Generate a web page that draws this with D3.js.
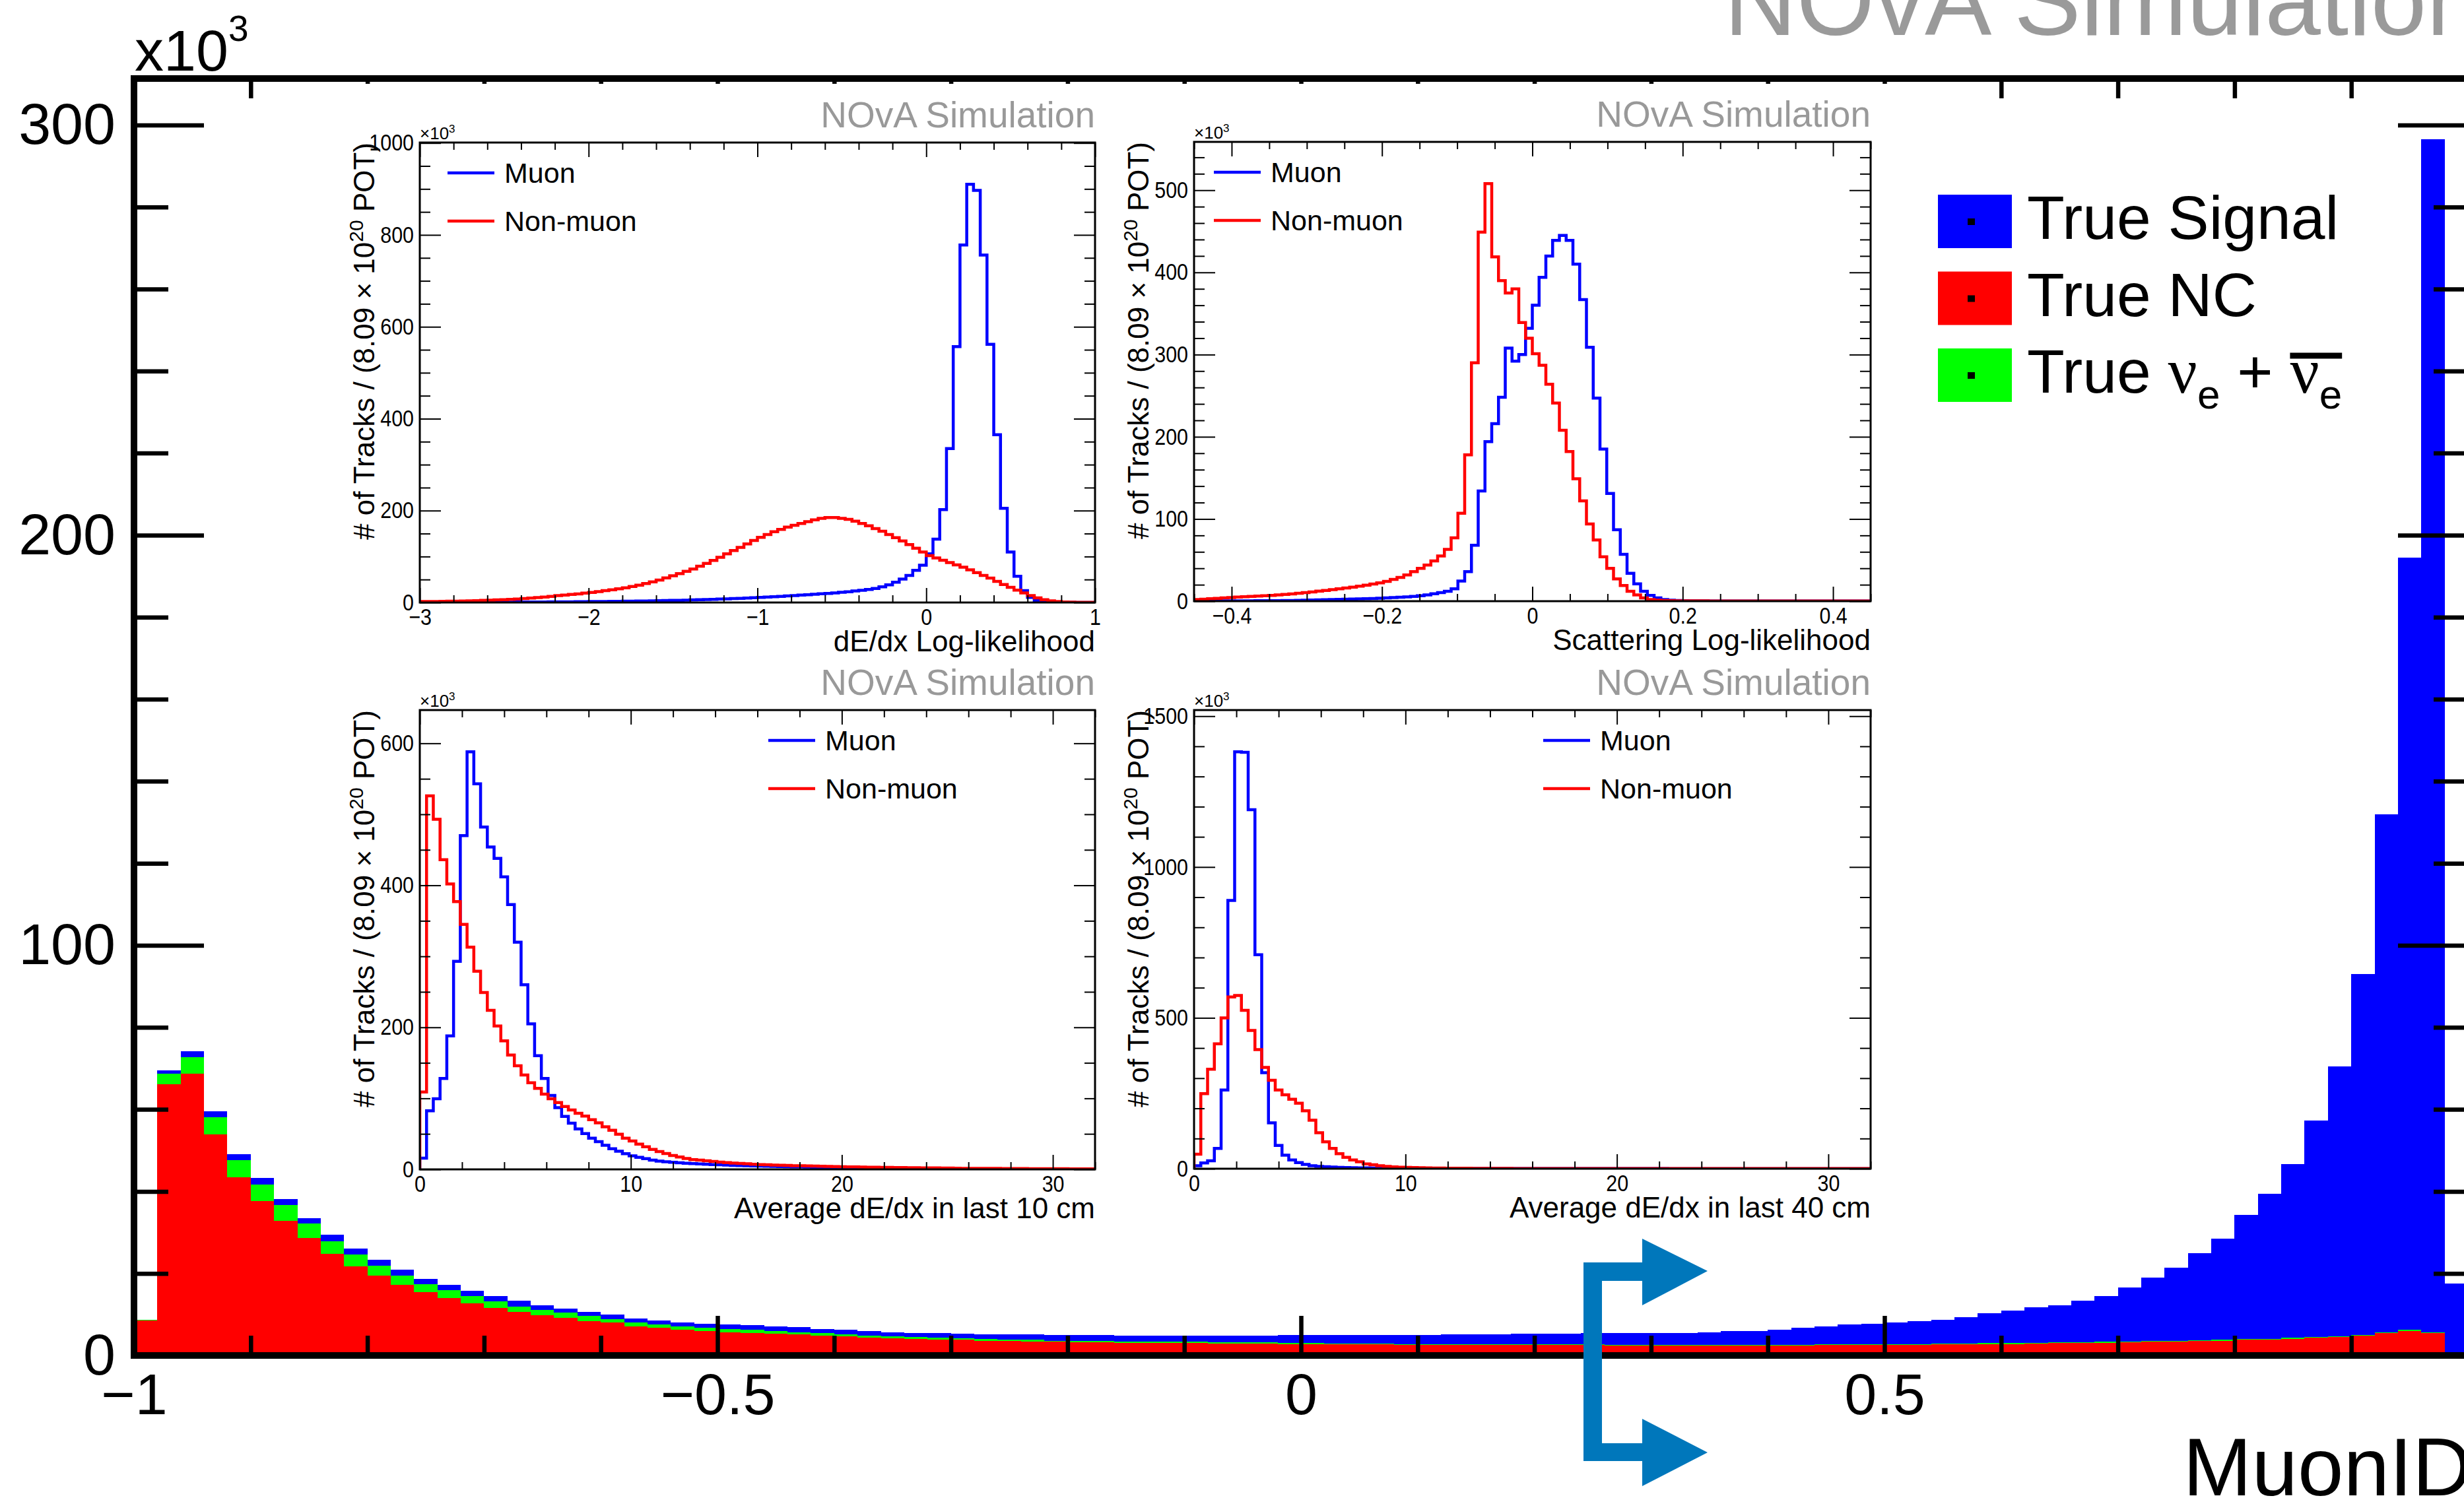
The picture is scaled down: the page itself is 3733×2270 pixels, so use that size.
<!DOCTYPE html>
<html>
<head>
<meta charset="utf-8">
<title>MuonID</title>
<script src="https://cdn.jsdelivr.net/npm/d3@7"></script>
<style>
  body { margin: 0; background: #fff; }
  svg { display: block; }
  text { white-space: pre; }
</style>
</head>
<body>
<svg id="fig" width="3733" height="2270"></svg>
<script>
// ---------------- data ----------------
// MuonID, 100 bins of 0.02 between -1 and 1, events in units of 10^3
var muonIdRange = [-1, 1];
var ncCounts = [
  8.6, 66.2, 68.7, 53.9, 43.5, 37.6, 32.9, 28.6, 24.7, 21.8,
  19.5, 17.2, 15.5, 14.0, 12.7, 11.6, 10.6, 9.8, 9.1, 8.4,
  8.0, 7.1, 6.7, 6.3, 6.0, 5.7, 5.5, 5.3, 5.1, 4.8,
  4.6, 4.4, 4.2, 4.0, 3.9, 3.8, 3.6, 3.5, 3.4, 3.3,
  3.2, 3.2, 3.1, 3.1, 3.0, 3.0, 2.9, 2.9, 2.9, 2.8,
  2.8, 2.7, 2.7, 2.7, 2.6, 2.6, 2.6, 2.6, 2.6, 2.5,
  2.5, 2.5, 2.5, 2.4, 2.4, 2.4, 2.4, 2.4, 2.4, 2.4,
  2.4, 2.4, 2.5, 2.5, 2.5, 2.6, 2.6, 2.7, 2.7, 2.8,
  2.8, 2.9, 3.0, 3.0, 3.1, 3.2, 3.3, 3.4, 3.5, 3.6,
  3.8, 3.9, 4.1, 4.3, 4.5, 4.8, 5.4, 5.9, 5.5, 0.4];
var nueCounts = [
  0.1, 2.5, 4.0, 4.2, 4.1, 4.1, 3.8, 3.5, 3.2, 2.8,
  2.4, 2.3, 1.9, 1.9, 1.8, 1.6, 1.3, 1.3, 1.3, 1.2,
  0.9, 1.0, 0.8, 0.8, 0.7, 0.7, 0.7, 0.7, 0.6, 0.6,
  0.6, 0.5, 0.5, 0.5, 0.4, 0.4, 0.4, 0.4, 0.4, 0.3,
  0.3, 0.3, 0.3, 0.3, 0.3, 0.3, 0.3, 0.3, 0.3, 0.3,
  0.2, 0.2, 0.2, 0.2, 0.2, 0.2, 0.2, 0.2, 0.2, 0.2,
  0.2, 0.2, 0.2, 0.2, 0.2, 0.2, 0.2, 0.2, 0.2, 0.2,
  0.2, 0.2, 0.2, 0.2, 0.2, 0.2, 0.2, 0.2, 0.2, 0.2,
  0.2, 0.2, 0.2, 0.2, 0.2, 0.2, 0.2, 0.2, 0.2, 0.2,
  0.2, 0.2, 0.2, 0.2, 0.2, 0.2, 0.2, 0.3, 0.2, 0.1];
var signalCounts = [
  0.0, 0.8, 1.5, 1.4, 1.5, 1.5, 1.5, 1.4, 1.5, 1.5,
  1.4, 1.4, 1.3, 1.3, 1.3, 1.2, 1.4, 1.2, 1.1, 1.0,
  1.1, 0.9, 1.0, 1.0, 1.1, 1.1, 1.2, 1.1, 1.2, 1.1,
  1.0, 1.1, 1.0, 1.0, 1.1, 1.1, 1.2, 1.2, 1.3, 1.4,
  1.5, 1.5, 1.5, 1.5, 1.6, 1.6, 1.7, 1.7, 1.7, 1.9,
  2.0, 2.1, 2.1, 2.1, 2.2, 2.2, 2.3, 2.3, 2.4, 2.6,
  2.6, 2.6, 2.7, 2.8, 2.9, 2.9, 2.9, 3.0, 3.3, 3.4,
  3.7, 4.1, 4.4, 4.8, 5.0, 5.3, 5.5, 5.8, 6.4, 7.3,
  7.9, 8.6, 9.1, 10.1, 11.2, 13.1, 15.5, 17.8, 21.2, 24.7,
  30.2, 35.3, 42.3, 52.7, 65.8, 88.0, 126.4, 188.3, 290.8, 17.1];
var muonIdCut = 0.25;

var mainXTicks = [-1, -0.5, 0, 0.5];
var mainYTicks = [0, 100, 200, 300];
var seriesKeys = ['nc', 'nue', 'sig'];
var legendLabels = [
  [['True Signal']],
  [['True NC']],
  [['True '], ['\u03bd', 'greek'], ['e', 'sub'], [' + '], ['\u03bd', 'greek bar'], ['e', 'sub bar']]
];

// inset: dE/dx log-likelihood, 100 bins on [-3, 1]
var dedxLLRange = [-3, 1];
var dedxLLTicks = [-3, -2, -1, 0, 1];
var dedxLLMuon = [
  0.3, 0.3, 0.4, 0.4, 0.4, 0.5, 0.5, 0.5, 0.6, 0.6,
  0.7, 0.7, 0.8, 0.8, 0.9, 1.0, 1.0, 1.1, 1.2, 1.3,
  1.4, 1.5, 1.6, 1.7, 1.8, 2.0, 2.1, 2.3, 2.4, 2.6,
  2.8, 3.0, 3.2, 3.4, 3.6, 3.9, 4.2, 4.5, 4.8, 5.2,
  5.6, 6.0, 6.4, 6.9, 7.4, 7.9, 8.5, 9.1, 9.7, 10.4,
  11.1, 11.8, 12.6, 13.4, 14.2, 15.1, 16.0, 16.9, 17.9, 18.9,
  19.9, 21.0, 22.2, 23.5, 25.0, 26.6, 28.4, 30.6, 34.0, 38.5,
  44, 51, 59, 70, 81, 106, 138, 202, 335, 557,
  778, 910, 897, 756, 562, 365, 205, 110, 57, 26,
  11, 4, 2, 1, 0.5, 0.3, 0.2, 0.1, 0, 0];
var dedxLLNonMuon = [
  2.0, 2.1, 2.3, 2.5, 2.7, 3.0, 3.3, 3.6, 4.0, 4.5,
  5.0, 5.6, 6.2, 6.9, 7.6, 8.5, 9.6, 10.8, 12.0, 13.4,
  15.0, 16.2, 17.5, 18.8, 20.3, 22.0, 23.8, 25.7, 27.7, 29.8,
  32.0, 34.8, 37.8, 41.2, 45.0, 49.0, 53.5, 58.2, 63.0, 68.0,
  73, 79, 85, 91.5, 98.5, 106, 113, 120, 127.5, 135,
  142, 148, 154, 159, 164, 168, 172, 176, 180, 183,
  185, 185, 183, 181, 177, 172, 167, 161, 155, 148,
  141, 134, 126, 118, 110, 102, 97, 92, 87, 82,
  77, 71, 65, 59, 53, 46, 39, 33, 27, 21,
  15, 10, 6, 3.5, 2, 1.2, 0.8, 0.5, 0.4, 0.3];

// inset: scattering log-likelihood, 100 bins on [-0.45, 0.45]
var scatLLRange = [-0.45, 0.45];
var scatLLTicks = [-0.4, -0.2, 0, 0.2, 0.4];
var scatLLMuon = [
  0.3, 0.3, 0.3, 0.4, 0.4, 0.4, 0.5, 0.5, 0.5, 0.6,
  0.6, 0.7, 0.7, 0.8, 0.9, 1.0, 1.2, 1.4, 1.6, 1.8,
  2.0, 2.2, 2.4, 2.6, 2.8, 3.0, 3.3, 3.6, 4.0, 4.4,
  4.8, 5.3, 5.9, 6.6, 7.6, 9.0, 10.5, 12, 15, 24.5,
  36, 68, 134, 194, 216, 248, 308, 292, 300, 332,
  360, 394, 420, 439, 445, 439, 410, 367, 309, 247,
  185, 131, 87, 57, 34, 21, 12, 7, 4, 2,
  1.2, 0.8, 0.6, 0.5, 0.4, 0.4, 0.3, 0.3, 0.3, 0.3,
  0.2, 0.2, 0.2, 0.2, 0.2, 0.2, 0.2, 0.2, 0.2, 0.2,
  0.2, 0.2, 0.2, 0.2, 0.2, 0.2, 0.2, 0.2, 0.2, 0.2];
var scatLLNonMuon = [
  2.0, 2.5, 3.0, 3.5, 4.0, 4.5, 5.0, 5.4, 5.8, 6.2,
  6.6, 7.0, 7.6, 8.2, 8.9, 9.6, 10.5, 11.3, 12.2, 13.1,
  14.0, 15.0, 16.0, 17.1, 18.2, 19.5, 20.8, 22.3, 24.0, 26.5,
  29, 32, 36, 40, 44, 49, 55, 63, 77, 107,
  178, 290, 449, 508, 419, 390, 375, 380, 339, 320,
  301, 287, 264, 241, 208, 182, 149, 122, 94, 74.5,
  54, 40, 27, 19, 12, 7.6, 4, 2, 1.2, 0.8,
  0.6, 0.5, 0.5, 0.4, 0.4, 0.4, 0.3, 0.3, 0.3, 0.3,
  0.3, 0.3, 0.3, 0.3, 0.3, 0.3, 0.3, 0.3, 0.3, 0.3,
  0.2, 0.2, 0.2, 0.2, 0.2, 0.2, 0.2, 0.2, 0.2, 0.2];

// inset: average dE/dx in last 10 cm, 100 bins on [0, 32]
var dedxRange = [0, 32];
var dedxTicks = [0, 10, 20, 30];
var dedx10Muon = [
  15.9, 82.5, 99.5, 128, 188, 293, 470, 588, 543, 482,
  454, 438, 412, 373, 320, 260, 205, 160, 128, 104,
  87, 74.5, 65, 57, 50.5, 44, 39, 34, 29, 25.5,
  22, 19, 17, 15, 13, 11.6, 10.8, 10.0, 9.3, 8.7,
  8.1, 7.6, 7.2, 6.8, 6.4, 6.0, 5.6, 5.3, 5.0, 4.8,
  4.6, 4.4, 4.2, 4.0, 3.8, 3.6, 3.4, 3.2, 3.0, 2.9,
  2.8, 2.7, 2.6, 2.5, 2.3, 2.2, 2.0, 1.9, 1.8, 1.6,
  1.5, 1.4, 1.3, 1.2, 1.1, 1.0, 1.0, 0.9, 0.9, 0.8,
  0.8, 0.7, 0.7, 0.6, 0.6, 0.6, 0.5, 0.5, 0.5, 0.5,
  0.4, 0.4, 0.4, 0.4, 0.3, 0.3, 0.3, 0.3, 0.3, 0.3];
var dedx10NonMuon = [
  109, 526, 493, 436, 402, 377, 345, 313, 279, 249,
  224, 202, 181, 161, 146, 133, 122, 114, 106, 99.5,
  94, 88.5, 83.7, 79, 75, 70, 65.5, 60, 55, 49.5,
  44, 40, 35.6, 31.9, 28, 25, 22.3, 19.6, 17.5, 15.4,
  13.8, 12.9, 12.0, 11.1, 10.3, 9.5, 8.9, 8.3, 7.8, 7.3,
  6.8, 6.5, 6.1, 5.8, 5.5, 5.2, 5.0, 4.8, 4.6, 4.4,
  4.2, 4.0, 3.8, 3.6, 3.4, 3.3, 3.1, 3.0, 2.8, 2.7,
  2.6, 2.5, 2.4, 2.3, 2.2, 2.1, 2.0, 1.9, 1.8, 1.7,
  1.5, 1.5, 1.4, 1.4, 1.3, 1.3, 1.2, 1.2, 1.1, 1.1,
  1.0, 1.0, 1.0, 0.9, 0.9, 0.9, 0.8, 0.8, 0.8, 0.8];

// inset: average dE/dx in last 40 cm, 100 bins on [0, 32]
var dedx40Muon = [
  10, 19, 26, 67, 261, 889, 1382, 1380, 1190, 709,
  318, 152, 77, 45, 29, 20, 14, 10, 7.6, 6.4,
  5.4, 4.6, 4.0, 3.5, 3.0, 2.6, 2.3, 2.0, 1.8, 1.6,
  1.4, 1.3, 1.2, 1.1, 1.0, 0.9, 0.8, 0.8, 0.7, 0.7,
  0.6, 0.6, 0.6, 0.5, 0.5, 0.5, 0.5, 0.4, 0.4, 0.4,
  0.4, 0.4, 0.4, 0.4, 0.4, 0.3, 0.3, 0.3, 0.3, 0.3,
  0.3, 0.3, 0.3, 0.3, 0.3, 0.3, 0.3, 0.3, 0.3, 0.3,
  0.2, 0.2, 0.2, 0.2, 0.2, 0.2, 0.2, 0.2, 0.2, 0.2,
  0.2, 0.2, 0.2, 0.2, 0.2, 0.2, 0.2, 0.2, 0.2, 0.2,
  0.2, 0.2, 0.2, 0.2, 0.2, 0.2, 0.2, 0.2, 0.2, 0.2];
var dedx40NonMuon = [
  48, 249, 330, 414, 500, 569, 574, 525, 458, 395,
  336, 293, 261, 245, 230, 217, 192, 161, 119, 89,
  67, 50, 38, 29, 23, 16, 13, 10, 7.6, 6.0,
  5.0, 4.3, 3.7, 3.2, 2.8, 2.4, 2.1, 1.9, 1.7, 1.5,
  1.4, 1.3, 1.2, 1.1, 1.0, 0.9, 0.9, 0.8, 0.8, 0.7,
  0.7, 0.7, 0.7, 0.6, 0.6, 0.6, 0.6, 0.6, 0.5, 0.5,
  0.5, 0.5, 0.5, 0.5, 0.5, 0.4, 0.4, 0.4, 0.4, 0.4,
  0.4, 0.4, 0.4, 0.4, 0.4, 0.4, 0.3, 0.3, 0.3, 0.3,
  0.3, 0.3, 0.3, 0.3, 0.3, 0.3, 0.3, 0.3, 0.3, 0.3,
  0.3, 0.3, 0.3, 0.3, 0.3, 0.3, 0.3, 0.3, 0.3, 0.3];

// ---------------- layout ----------------
var SANS = '"Liberation Sans", Arial, Helvetica, sans-serif';
var SERIF = '"Liberation Serif", "Times New Roman", serif';
var fillColors = ['#ff0000', '#00ff00', '#0000ff'];   // NC, nue, signal (bottom to top)
var legendColors = ['#0000ff', '#ff0000', '#00ff00'];
var fmt = d3.format('~g');

var svg = d3.select('#fig').attr('font-family', SANS);
svg.append('rect').attr('width', 3733).attr('height', 2270).attr('fill', '#fff');

// main frame
var frame = { left: 203, right: 3739, top: 119, bottom: 2054 };

var rows = signalCounts.map(function (s, i) {
  var w = (muonIdRange[1] - muonIdRange[0]) / signalCounts.length;
  return { lo: muonIdRange[0] + i * w, nc: ncCounts[i], nue: nueCounts[i], sig: s };
});
var totalMax = d3.max(rows, function (d) { return d.nc + d.nue + d.sig; });
// close the last step at the upper edge
rows.push(Object.assign({}, rows[rows.length - 1], { lo: muonIdRange[1] }));

var x = d3.scaleLinear().domain(muonIdRange).range([frame.left, frame.right]);
var y = d3.scaleLinear().domain([0, totalMax * 1.05]).range([frame.bottom, frame.top]);

svg.append('clipPath').attr('id', 'mainClip').append('rect')
  .attr('x', frame.left).attr('y', frame.top)
  .attr('width', frame.right - frame.left).attr('height', frame.bottom - frame.top);

var stacked = d3.stack().keys(seriesKeys)(rows);
var area = d3.area()
  .curve(d3.curveStepAfter)
  .x(function (d) { return x(d.data.lo); })
  .y0(function (d) { return y(d[0]); })
  .y1(function (d) { return y(d[1]); });

svg.append('g').attr('clip-path', 'url(#mainClip)')
  .selectAll('path').data(stacked).join('path')
  .attr('d', area)
  .attr('fill', function (d, i) { return fillColors[i]; })
  .attr('shape-rendering', 'crispEdges');

function cleanAxis(g, size, width) {
  g.attr('font-family', null).attr('font-size', size);
  g.select('.domain').remove();
  g.selectAll('.tick line').attr('stroke', '#000').attr('stroke-width', width);
  g.selectAll('.tick text').attr('fill', '#000');
  return g;
}

function minorValues(lo, hi, step, major) {
  var a = Math.ceil(lo / step - 1e-9), b = Math.floor(hi / step + 1e-9);
  return d3.range(a, b + 1).map(function (i) { return i * step; }).filter(function (v) {
    var r = v / major;
    return Math.abs(r - Math.round(r)) > 1e-6;
  });
}

var xMinor = minorValues(-1, 1, 0.1, 0.5);
var yMinor = minorValues(0, totalMax * 1.05, 20, 100);

// bottom axis
cleanAxis(svg.append('g').attr('transform', 'translate(0,' + frame.bottom + ')')
  .call(d3.axisBottom(x).tickValues(xMinor).tickSize(-30).tickFormat('')), 88, 6.5);
cleanAxis(svg.append('g').attr('transform', 'translate(0,' + frame.bottom + ')')
  .call(d3.axisBottom(x).tickValues(mainXTicks).tickSize(-60).tickPadding(27).tickFormat(fmt)), 88, 6.5);
// top axis
cleanAxis(svg.append('g').attr('transform', 'translate(0,' + frame.top + ')')
  .call(d3.axisTop(x).tickValues(xMinor).tickSize(-30).tickFormat('')), 88, 6.5);
cleanAxis(svg.append('g').attr('transform', 'translate(0,' + frame.top + ')')
  .call(d3.axisTop(x).tickValues(mainXTicks).tickSize(-60).tickFormat('')), 88, 6.5);
// left axis
cleanAxis(svg.append('g').attr('transform', 'translate(' + frame.left + ',0)')
  .call(d3.axisLeft(y).tickValues(yMinor).tickSize(-52).tickFormat('')), 88, 6.5);
cleanAxis(svg.append('g').attr('transform', 'translate(' + frame.left + ',0)')
  .call(d3.axisLeft(y).tickValues(mainYTicks).tickSize(-106).tickPadding(28).tickFormat(fmt)), 88, 6.5);
// right axis
cleanAxis(svg.append('g').attr('transform', 'translate(' + frame.right + ',0)')
  .call(d3.axisRight(y).tickValues(yMinor).tickSize(-52).tickFormat('')), 88, 6.5);
cleanAxis(svg.append('g').attr('transform', 'translate(' + frame.right + ',0)')
  .call(d3.axisRight(y).tickValues(mainYTicks).tickSize(-106).tickFormat('')), 88, 6.5);

svg.append('rect')
  .attr('x', frame.left).attr('y', frame.top)
  .attr('width', frame.right - frame.left).attr('height', frame.bottom - frame.top)
  .attr('fill', 'none').attr('stroke', '#000').attr('stroke-width', 10);

// x10^3 multiplier
var mult = svg.append('text').attr('x', 204).attr('y', 107).attr('font-size', 88).text('x10');
mult.append('tspan').attr('font-size', 55).attr('dy', -45).text('3');

// axis title
svg.append('text').attr('x', 3745).attr('y', 2266).attr('text-anchor', 'end')
  .attr('font-size', 125).text('MuonID');

// big simulation label
svg.append('text').attr('x', 2612).attr('y', 53).attr('font-size', 152)
  .attr('fill', '#9a9a9a').text('NOvA Simulation');

// ---------------- insets ----------------
var insets = [
  { id: 'a', box: { l: 636, t: 216, r: 1659, b: 913 }, range: dedxLLRange, ticks: dedxLLTicks,
    muon: dedxLLMuon, other: dedxLLNonMuon, xMinor: 0.2, yMajor: 200, yMinor: 50,
    title: 'dE/dx Log-likelihood', legendDx: 42 },
  { id: 'b', box: { l: 1809, t: 215, r: 2834, b: 911 }, range: scatLLRange, ticks: scatLLTicks,
    muon: scatLLMuon, other: scatLLNonMuon, xMinor: 0.05, yMajor: 100, yMinor: 20,
    title: 'Scattering Log-likelihood', legendDx: 30 },
  { id: 'c', box: { l: 636, t: 1076, r: 1659, b: 1772 }, range: dedxRange, ticks: dedxTicks,
    muon: dedx10Muon, other: dedx10NonMuon, xMinor: 2, yMajor: 200, yMinor: 50,
    title: 'Average dE/dx in last 10 cm', legendDx: 528 },
  { id: 'd', box: { l: 1809, t: 1076, r: 2834, b: 1771 }, range: dedxRange, ticks: dedxTicks,
    muon: dedx40Muon, other: dedx40NonMuon, xMinor: 2, yMajor: 500, yMinor: 100,
    title: 'Average dE/dx in last 40 cm', legendDx: 529 }
];

// the insets were pasted as opaque pictures
svg.append('rect').attr('x', 500).attr('y', 127).attr('width', 2366).attr('height', 872).attr('fill', '#fff');
svg.append('rect').attr('x', 500).attr('y', 1000).attr('width', 2366).attr('height', 856).attr('fill', '#fff');

var LABEL_SCALE = 0.87;

function drawInset(c) {
  var b = c.box;
  var n = c.muon.length;
  var step = (c.range[1] - c.range[0]) / n;
  var ymax = 1.1 * d3.max(c.muon.concat(c.other));
  var xs = d3.scaleLinear().domain(c.range).range([b.l, b.r]);
  var ys = d3.scaleLinear().domain([0, ymax]).range([b.b, b.t]);
  var g = svg.append('g');

  g.append('clipPath').attr('id', 'clip' + c.id).append('rect')
    .attr('x', b.l).attr('y', b.t).attr('width', b.r - b.l).attr('height', b.b - b.t);

  var line = d3.line().curve(d3.curveStepAfter)
    .x(function (d) { return xs(d[0]); })
    .y(function (d) { return ys(d[1]); });
  function steps(vals) {
    var p = [[c.range[0], 0]];
    vals.forEach(function (v, i) { p.push([c.range[0] + i * step, v]); });
    p.push([c.range[1], vals[n - 1]]);
    p.push([c.range[1], 0]);
    return p;
  }
  var hg = g.append('g').attr('clip-path', 'url(#clip' + c.id + ')');
  hg.append('path').attr('d', line(steps(c.muon)))
    .attr('fill', 'none').attr('stroke', '#0000ff').attr('stroke-width', 4.5);
  hg.append('path').attr('d', line(steps(c.other)))
    .attr('fill', 'none').attr('stroke', '#ff0000').attr('stroke-width', 4.5);

  var xm = minorValues(c.range[0], c.range[1], c.xMinor, c.ticks[1] - c.ticks[0]);
  var yMaj = d3.range(0, ymax + 1e-9, c.yMajor);
  var ym = minorValues(0, ymax, c.yMinor, c.yMajor);

  cleanAxis(g.append('g').attr('transform', 'translate(0,' + b.b + ')')
    .call(d3.axisBottom(xs).tickValues(xm).tickSize(-11).tickFormat('')), 35, 2);
  var bx = cleanAxis(g.append('g').attr('transform', 'translate(0,' + b.b + ')')
    .call(d3.axisBottom(xs).tickValues(c.ticks).tickSize(-22).tickPadding(9).tickFormat(fmt)), 35, 2);
  bx.selectAll('.tick text').attr('transform', 'scale(' + LABEL_SCALE + ',1)');
  cleanAxis(g.append('g').attr('transform', 'translate(0,' + b.t + ')')
    .call(d3.axisTop(xs).tickValues(xm).tickSize(-11).tickFormat('')), 35, 2);
  cleanAxis(g.append('g').attr('transform', 'translate(0,' + b.t + ')')
    .call(d3.axisTop(xs).tickValues(c.ticks).tickSize(-22).tickFormat('')), 35, 2);

  cleanAxis(g.append('g').attr('transform', 'translate(' + b.l + ',0)')
    .call(d3.axisLeft(ys).tickValues(ym).tickSize(-16).tickFormat('')), 35, 2);
  var ly = cleanAxis(g.append('g').attr('transform', 'translate(' + b.l + ',0)')
    .call(d3.axisLeft(ys).tickValues(yMaj).tickSize(-32).tickPadding(9).tickFormat(fmt)), 35, 2);
  ly.selectAll('.tick text').attr('x', -9 / LABEL_SCALE).attr('transform', 'scale(' + LABEL_SCALE + ',1)');
  cleanAxis(g.append('g').attr('transform', 'translate(' + b.r + ',0)')
    .call(d3.axisRight(ys).tickValues(ym).tickSize(-16).tickFormat('')), 35, 2);
  cleanAxis(g.append('g').attr('transform', 'translate(' + b.r + ',0)')
    .call(d3.axisRight(ys).tickValues(yMaj).tickSize(-32).tickFormat('')), 35, 2);

  g.append('rect').attr('x', b.l).attr('y', b.t).attr('width', b.r - b.l).attr('height', b.b - b.t)
    .attr('fill', 'none').attr('stroke', '#000').attr('stroke-width', 3);

  // multiplier
  var m = g.append('text').attr('x', b.l).attr('y', b.t - 5).attr('font-size', 26).text('\u00d710');
  m.append('tspan').attr('font-size', 17).attr('dy', -10).text('3');

  // y title
  var yt = g.append('text')
    .attr('transform', 'translate(' + (b.l - 69) + ',' + b.t + ') rotate(-90)')
    .attr('text-anchor', 'end').attr('font-size', 44);
  yt.append('tspan').text('# of Tracks / (8.09 \u00d7 10');
  yt.append('tspan').attr('font-size', 30).attr('dy', -17).text('20');
  yt.append('tspan').attr('dy', 17).text(' POT)');

  // x title
  g.append('text').attr('x', b.r).attr('y', b.b + 74).attr('text-anchor', 'end')
    .attr('font-size', 44).text(c.title);

  // simulation tag
  g.append('text').attr('x', b.r).attr('y', b.t - 23).attr('text-anchor', 'end')
    .attr('font-size', 55).attr('fill', '#999').text('NOvA Simulation');

  // legend
  var lg = g.append('g');
  [['Muon', '#0000ff'], ['Non-muon', '#ff0000']].forEach(function (e, i) {
    var ly0 = b.t + 46 + i * 73;
    lg.append('line').attr('x1', b.l + c.legendDx).attr('x2', b.l + c.legendDx + 71)
      .attr('y1', ly0).attr('y2', ly0).attr('stroke', e[1]).attr('stroke-width', 4.5);
    lg.append('text').attr('x', b.l + c.legendDx + 86).attr('y', ly0 + 15)
      .attr('font-size', 43).text(e[0]);
  });
}

insets.forEach(drawInset);

// ---------------- main legend ----------------
var leg = svg.append('g');
legendLabels.forEach(function (parts, i) {
  var top = 295 + i * 116.5;
  leg.append('rect').attr('x', 2936).attr('y', top).attr('width', 112).attr('height', 81)
    .attr('fill', legendColors[i]);
  leg.append('rect').attr('x', 2981).attr('y', top + 36).attr('width', 11).attr('height', 10)
    .attr('fill', '#000');
  var t = leg.append('text').attr('x', 3071).attr('y', top + 67).attr('font-size', 93);
  var shifted = false, barIdx = [], idx = 0;
  parts.forEach(function (p) {
    var s = t.append('tspan').text(p[0]);
    var kind = p[1] || '';
    if (kind.indexOf('greek') >= 0) s.attr('font-family', SERIF).attr('font-size', 98);
    if (kind.indexOf('sub') >= 0) { s.attr('font-size', 62).attr('dy', 24); shifted = true; }
    else if (shifted) { s.attr('dy', -24); shifted = false; }
    if (kind.indexOf('bar') >= 0) {
      for (var k = 0; k < p[0].length; k++) barIdx.push(idx + k);
    }
    idx += p[0].length;
  });
  if (barIdx.length) {
    var node = t.node();
    var a = node.getExtentOfChar(barIdx[0]);
    var z = node.getExtentOfChar(barIdx[barIdx.length - 1]);
    leg.append('line').attr('x1', a.x).attr('x2', z.x + z.width)
      .attr('y1', top + 11).attr('y2', top + 11)
      .attr('stroke', '#000').attr('stroke-width', 9);
  }
});

// ---------------- cut arrow ----------------
var cx = x(muonIdCut);
var arrow = d3.path();
arrow.moveTo(cx - 14, 1913);
arrow.lineTo(cx + 75, 1913);
arrow.lineTo(cx + 75, 1877);
arrow.lineTo(cx + 174, 1926);
arrow.lineTo(cx + 75, 1978);
arrow.lineTo(cx + 75, 1941);
arrow.lineTo(cx + 14, 1941);
arrow.lineTo(cx + 14, 2187);
arrow.lineTo(cx + 75, 2187);
arrow.lineTo(cx + 75, 2150);
arrow.lineTo(cx + 174, 2201);
arrow.lineTo(cx + 75, 2252);
arrow.lineTo(cx + 75, 2214);
arrow.lineTo(cx - 14, 2214);
arrow.closePath();
svg.append('path').attr('d', arrow.toString()).attr('fill', '#0077bb');
</script>
</body>
</html>
